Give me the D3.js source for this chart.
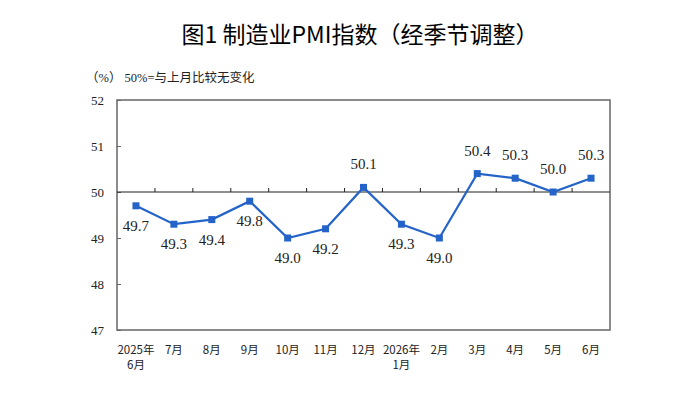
<!DOCTYPE html>
<html>
<head>
<meta charset="utf-8">
<script src="https://cdn.jsdelivr.net/npm/d3@7"></script>
<style>
  body { margin: 0; background: #fff; }
</style>
</head>
<body>
<div id="chart"></div>
<script>
const months = ['2025年\n6月', '7月', '8月', '9月', '10月', '11月', '12月', '2026年\n1月', '2月', '3月', '4月', '5月', '6月']
const pmi = [49.7, 49.3, 49.4, 49.8, 49.0, 49.2, 50.1, 49.3, 49.0, 50.4, 50.3, 50.0, 50.3]
const yTicks = [47, 48, 49, 50, 51, 52]

const margin = { top: 100, left: 117, right: 90, bottom: 65 }
const width = 700 - margin.left - margin.right
const height = 395 - margin.top - margin.bottom

const svgRoot = d3
  .select('#chart')
  .append('svg')
  .attr('width', 700)
  .attr('height', 395)

const svg = svgRoot
  .append('g')
  .attr('transform', 'translate(' + margin.left + ',' + margin.top + ')')

const serif = '"Times New Roman", "Liberation Serif", "Noto Sans CJK SC", serif'
const hei = '"Noto Sans CJK SC", sans-serif'

// title + unit note
svgRoot
  .append('text')
  .attr('x', 360)
  .attr('y', 43)
  .attr('text-anchor', 'middle')
  .attr('font-family', hei)
  .attr('font-size', 23)
  .attr('fill', '#000')
  .text('图1 制造业PMI指数（经季节调整）')

svgRoot
  .append('text')
  .attr('x', 86)
  .attr('y', 82)
  .attr('font-family', serif)
  .attr('font-size', 12.5)
  .attr('fill', '#222')
  .text('（%）  50%=与上月比较无变化')

// scales
const x = d3.scaleBand().domain(months).range([0, width])
const y = d3.scaleLinear().domain([47, 52]).range([height, 0])

// frame
svg
  .append('rect')
  .attr('width', width)
  .attr('height', height)
  .attr('fill', 'none')
  .attr('stroke', '#666')
  .attr('stroke-width', 1.5)

// left axis
const yAxis = d3.axisRight(y).tickValues(yTicks).tickSize(4).tickFormat('')
svg
  .append('g')
  .attr('class', 'y-axis')
  .call(yAxis)
  .call(g => g.select('.domain').remove())
  .call(g => g.selectAll('line').attr('stroke', '#666'))

svg
  .selectAll('.y-label')
  .data(yTicks)
  .enter()
  .append('text')
  .attr('class', 'y-label')
  .attr('x', -13)
  .attr('y', d => y(d))
  .attr('dy', '0.35em')
  .attr('text-anchor', 'end')
  .attr('font-family', serif)
  .attr('font-size', 13)
  .attr('fill', '#222')
  .text(d => d)

// 50 reference line with ticks at band boundaries
svg
  .append('line')
  .attr('x1', 0)
  .attr('x2', width)
  .attr('y1', y(50))
  .attr('y2', y(50))
  .attr('stroke', '#222')
  .attr('stroke-width', 1.2)

svg
  .selectAll('.mid-tick')
  .data(months.slice(1))
  .enter()
  .append('line')
  .attr('class', 'mid-tick')
  .attr('x1', d => x(d))
  .attr('x2', d => x(d))
  .attr('y1', y(50))
  .attr('y2', y(50) - 4)
  .attr('stroke', '#222')

// x labels, one text per line
months.forEach(m => {
  m.split('\n').forEach((t, i) => {
    svg
      .append('text')
      .attr('class', 'x-label')
      .attr('x', x(m) + x.bandwidth() / 2)
      .attr('y', height + 24 + i * 15)
      .attr('text-anchor', 'middle')
      .attr('font-family', hei)
      .attr('font-size', 11.5)
      .attr('fill', '#222')
      .text(t)
  })
})

// line
const cx = (d, i) => x(months[i]) + x.bandwidth() / 2
const line = d3
  .line()
  .x(cx)
  .y(d => y(d))

svg
  .append('path')
  .datum(pmi)
  .attr('d', line)
  .attr('fill', 'none')
  .attr('stroke', '#2463c8')
  .attr('stroke-width', 2.2)

svg
  .selectAll('.marker')
  .data(pmi)
  .enter()
  .append('rect')
  .attr('class', 'marker')
  .attr('x', (d, i) => cx(d, i) - 3.5)
  .attr('y', d => y(d) - 3.5)
  .attr('width', 7)
  .attr('height', 7)
  .attr('fill', '#2463c8')

svg
  .selectAll('.value')
  .data(pmi)
  .enter()
  .append('text')
  .attr('class', 'value')
  .attr('x', cx)
  .attr('y', d => (d >= 50 ? y(d) - 18 : y(d) + 25))
  .attr('text-anchor', 'middle')
  .attr('font-family', serif)
  .attr('font-size', 15)
  .attr('fill', '#222')
  .text(d => d.toFixed(1))
</script>
</body>
</html>
